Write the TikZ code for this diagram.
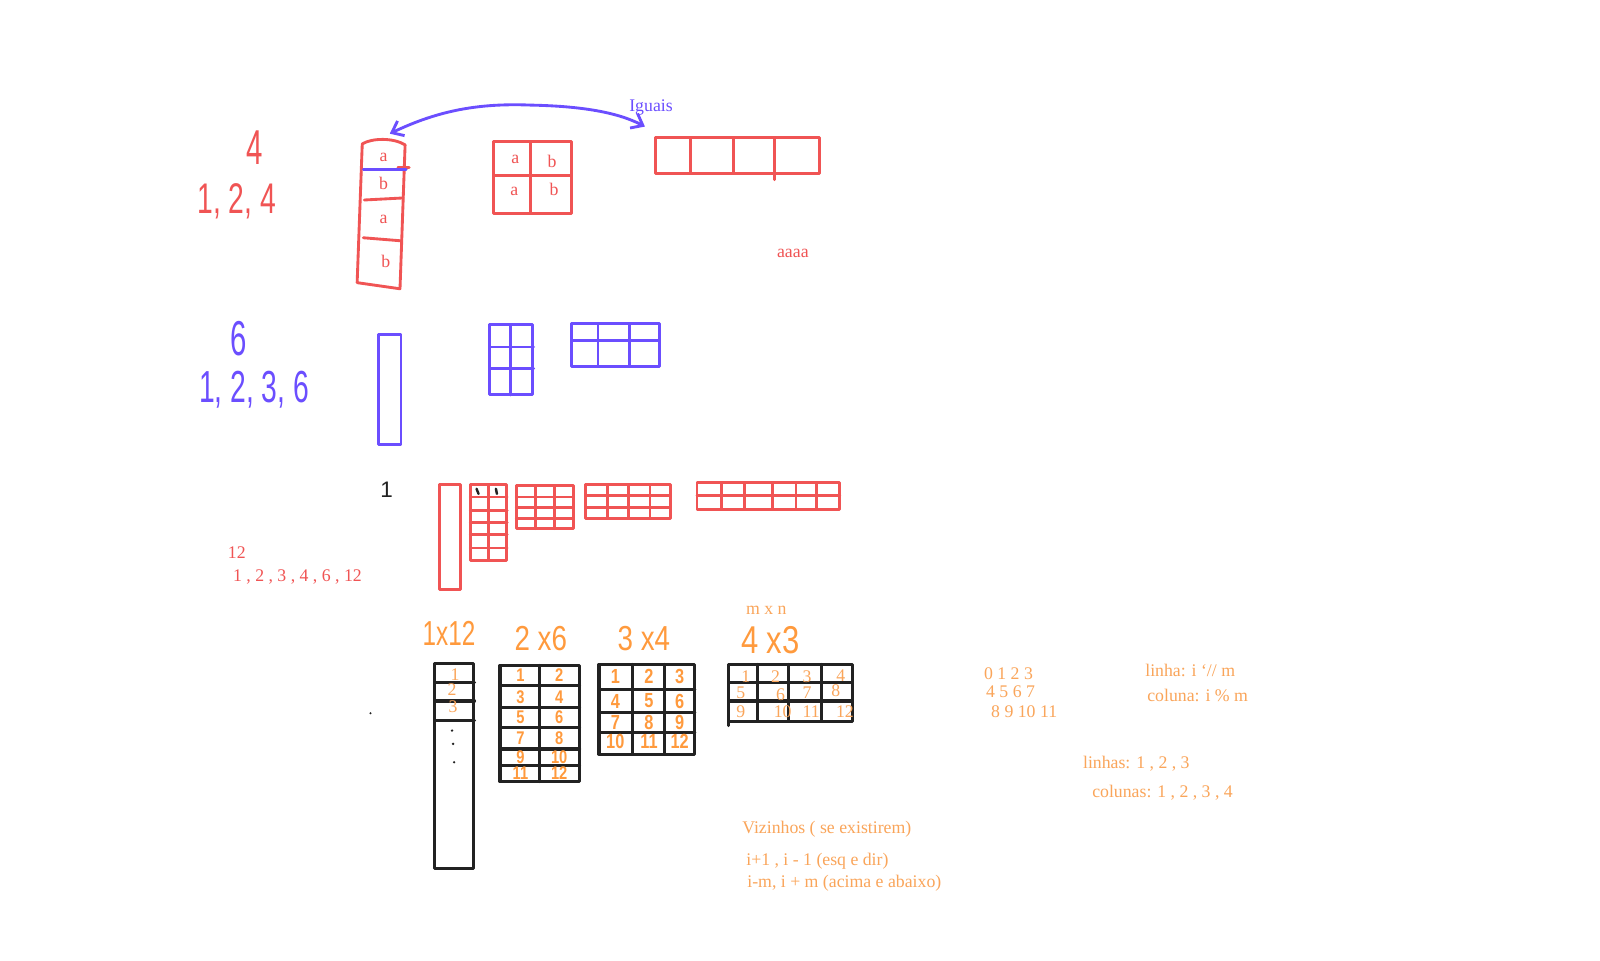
\documentclass[tikz,border=0pt]{standalone}
\usepackage{fontspec}
\setmainfont{Liberation Serif}
\newfontfamily\handfont{Liberation Sans}
\usetikzlibrary{arrows.meta}
\definecolor{cred}{RGB}{240,84,84}
\definecolor{cblue}{RGB}{107,78,255}
\definecolor{corange}{RGB}{255,154,61}
\definecolor{ctext}{RGB}{250,165,90}
\definecolor{cblack}{RGB}{34,34,34}
\begin{document}
\begin{tikzpicture}[x=0.5pt,y=-0.5pt,
  redln/.style={draw=cred,line width=1.4pt,line cap=round,line join=round},
  blueln/.style={draw=cblue,line width=1.4pt,line cap=round,line join=round},
  blackln/.style={draw=cblack,line width=1.5pt,line cap=round,line join=round},
  typed/.style={inner sep=0pt,font=\fontsize{8.7}{10}\selectfont},
  hand/.style={inner sep=0pt,font=\handfont\fontsize{#1}{#1}\selectfont},
  cellnum/.style={inner sep=0pt,text=corange,font=\handfont\bfseries\fontsize{#1}{#1}\selectfont,xscale=0.8},
  dot/.style={fill=cblack,draw=none}]
\useasboundingbox (0,0) rectangle (1568,941);
\fill[white] (0,0) rectangle (1568,941);

% ---------- row 1 : 4 ----------
\node[hand=24,text=cred,xscale=0.6] (n4) at (250,145) {4};
\node[hand=21,text=cred,xscale=0.66] (d4) at (232,197) {1, 2, 4};
\draw[redln] (355,141) .. controls (365,135) and (386,135) .. (397,142) -- (392,283) -- (350,277) -- cycle;
\draw[redln] (357,196) -- (395,194);
\draw[redln] (356,233) -- (393,236);
\draw[redln] (390,164) -- (401,164);
\draw[blueln] (356,166) -- (398,166);
\node[typed,text=cred] (ca1) at (376,154) {a};
\node[typed,text=cred] (cb1) at (376,180) {b};
\node[typed,text=cred] (ca2) at (376,215) {a};
\node[typed,text=cred] (cb2) at (378,256) {b};
\coordinate (colTop) at (382,131);

\draw[redln] (484,139) rectangle (560,209);
\draw[redln] (520,139) -- (520,209);
\draw[redln] (484,172) -- (560,172);
\node[typed,text=cred] (sa1) at (505,156) {a};
\node[typed,text=cred] (sb1) at (541,158) {b};
\node[typed,text=cred] (sa2) at (504,188) {a};
\node[typed,text=cred] (sb2) at (543,186) {b};

\draw[redln] (642,135) rectangle (803,170);
\draw[redln] (677,135) -- (677,170);
\draw[redln] (719,135) -- (719,170);
\draw[redln] (759,135) -- (759,176);
\coordinate (rowTop) at (632,124);
\node[typed,text=cred] (aaaa) at (777,248) {aaaa};

\draw[blueln,{Straight Barb[length=5pt,width=8pt]}-{Straight Barb[length=5pt,width=8pt]}]
  (colTop) .. controls (430,108) and (470,101) .. (520,103)
  .. controls (570,104) and (605,110) .. (rowTop);
\node[typed,text=cblue] (iguais) at (638,105) {Iguais};

% ---------- row 2 : 6 ----------
\node[hand=24,text=cblue,xscale=0.6] (n6) at (234,332) {6};
\node[hand=22,text=cblue,xscale=0.63] (d6) at (249,382) {1, 2, 3, 6};
\draw[blueln] (371,328) rectangle (393,436);
\draw[blueln] (480,318) rectangle (522,387);
\draw[blueln] (500,318) -- (500,387);
\draw[blueln] (480,340) -- (523,340);
\draw[blueln] (480,361) -- (523,361);
\draw[blueln] (560,317) rectangle (646,359);
\draw[blueln] (586,317) -- (586,359);
\draw[blueln] (617,317) -- (617,359);
\draw[blueln] (560,334) -- (646,334);

% ---------- row 3 : 12 ----------
\node[hand=11,text=cblack] (one) at (379,480) {1};
\node[typed,text=cred,anchor=west] (n12) at (223,542) {12};
\node[typed,text=cred,anchor=west] (d12) at (228,565) {1 , 2 , 3 , 4 , 6 , 12};
\draw[redln] (431,475) rectangle (451,578);
\draw[redln] (461,475) rectangle (496,549);
\draw[redln] (479,475) -- (479,549);
\foreach \yy in {487,500,512,524,537} \draw[redln] (461,\yy) -- (497,\yy);
\draw[blackln,line width=1.2pt] (467,479) -- (469,484);
\draw[blackln,line width=1.2pt] (486,479) -- (487,484);
\draw[redln] (506,476) rectangle (562,518);
\draw[redln] (525,476) -- (525,518);
\draw[redln] (543,476) -- (543,518);
\foreach \yy in {487,497,508} \draw[redln] (506,\yy) -- (562,\yy);
\draw[redln] (574,475) rectangle (657,508);
\foreach \xx in {595,616,637} \draw[redln] (\xx,475) -- (\xx,508);
\foreach \yy in {486,497} \draw[redln] (574,\yy) -- (657,\yy);
\draw[redln] (683,473) rectangle (823,499);
\draw[redln] (683,486) -- (823,486);
\foreach \xx in {707,730,757,780,800} \draw[redln] (\xx,473) -- (\xx,499);

% ---------- row 4 : black grids ----------
\node[typed,text=ctext] (mxn) at (751,598) {m x n};
\node[hand=17,text=corange,xscale=0.7] (l1) at (440,621) {1x12};
\node[hand=17,text=corange,xscale=0.8] (l2) at (530,626) {2 x6};
\node[hand=17,text=corange,xscale=0.8] (l3) at (631,626) {3 x4};
\node[hand=19,text=corange,xscale=0.8] (l4) at (755,627) {4 x3};

\draw[blackln] (426,650) rectangle (464,851);
\foreach \yy in {669,687,706} \draw[blackln] (426,\yy) -- (465,\yy);
\node[typed,text=ctext] (c1) at (446,661) {1};
\node[typed,text=ctext] (c2) at (443,676) {2};
\node[typed,text=ctext] (c3) at (444,693) {3};
\fill[dot] (443,716) circle (1.3);
\fill[dot] (444,729) circle (1.3);
\fill[dot] (445,747) circle (1.3);
\fill[dot] (363,699) circle (1.1);

\draw[blackln] (490,652) rectangle (568,766);
\draw[blackln] (529,652) -- (529,766);
\foreach \yy in {672,693,713,734,750} \draw[blackln] (490,\yy) -- (568,\yy);
\foreach \r/\yy in {0/662,1/683,2/703,3/723,4/742,5/758}{
  \pgfmathtruncatemacro{\a}{2*\r+1}\pgfmathtruncatemacro{\b}{2*\r+2}
  \node[cellnum=9] at (510,\yy) {\a};
  \node[cellnum=9] at (548,\yy) {\b};
}

\draw[blackln] (587,651) rectangle (681,739);
\draw[blackln] (620,651) -- (620,739);
\draw[blackln] (651,651) -- (651,739);
\foreach \yy in {676,698,718} \draw[blackln] (587,\yy) -- (681,\yy);
\foreach \r/\yy in {0/663,1/687,2/708,3/727}{
  \pgfmathtruncatemacro{\a}{3*\r+1}\pgfmathtruncatemacro{\b}{3*\r+2}\pgfmathtruncatemacro{\c}{3*\r+3}
  \node[cellnum=10] at (603,\yy) {\a};
  \node[cellnum=10] at (636,\yy) {\b};
  \node[cellnum=10] at (666,\yy) {\c};
}

\draw[blackln] (714,711) -- (714,651) -- (835,651) -- (835,707) -- (714,707);
\foreach \xx in {742,773,805} \draw[blackln] (\xx,651) -- (\xx,707);
\foreach \yy in {669,687} \draw[blackln] (714,\yy) -- (835,\yy);
\node[typed,text=ctext] at (731,663) {1};
\node[typed,text=ctext] at (760,663) {2};
\node[typed,text=ctext] at (791,663) {3};
\node[typed,text=ctext] at (824,662) {4};
\node[typed,text=ctext] at (726,679) {5};
\node[typed,text=ctext] at (765,681) {6};
\node[typed,text=ctext] at (791,679) {7};
\node[typed,text=ctext] at (819,677) {8};
\node[typed,text=ctext] at (726,697) {9};
\node[typed,text=ctext] at (767,697) {10};
\node[typed,text=ctext] at (795,697) {11};
\node[typed,text=ctext] at (828,697) {12};

% ---------- notes ----------
\node[typed,text=ctext,anchor=west] (r0) at (964,660) {0 1 2 3};
\node[typed,text=ctext,anchor=west] (r1) at (966,678) {4 5 6 7};
\node[typed,text=ctext,anchor=west] (r2) at (971,697) {8 9 10 11};
\node[typed,text=ctext,anchor=west] (lin) at (1122,657) {linha: i ‘// m};
\node[typed,text=ctext,anchor=west] (col) at (1124,682) {coluna: i \% m};
\node[typed,text=ctext,anchor=west] (lins) at (1061,748) {linhas: 1 , 2 , 3};
\node[typed,text=ctext,anchor=west] (cols) at (1070,777) {colunas: 1 , 2 , 3 , 4};
\node[typed,text=ctext,anchor=west] (viz) at (727,813) {Vizinhos ( se existirem)};
\node[typed,text=ctext,anchor=west] (v1) at (731,844) {i+1 , i - 1 (esq e dir)};
\node[typed,text=ctext,anchor=west] (v2) at (732,866) {i-m, i + m (acima e abaixo)};
\end{tikzpicture}
\end{document}
